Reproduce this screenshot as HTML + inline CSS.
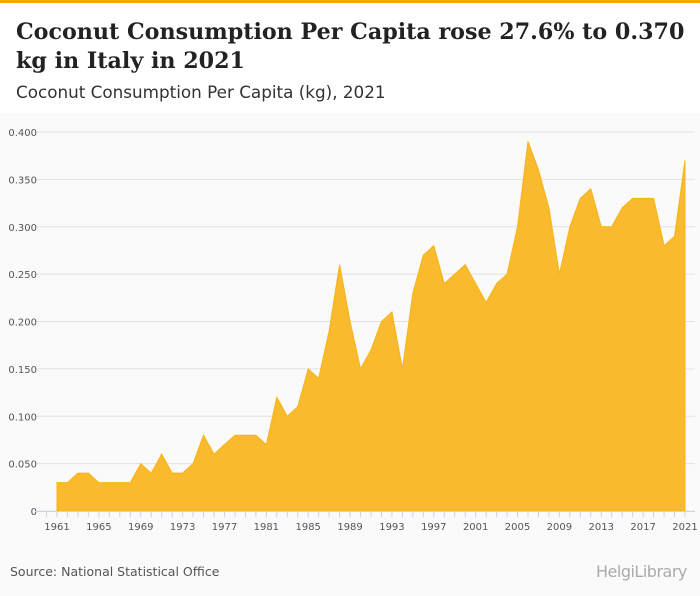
<!DOCTYPE html>
<html><head><meta charset="utf-8"><style>
body{margin:0;width:700px;height:596px;overflow:hidden;background:#fafafa;font-family:"DejaVu Sans",sans-serif;position:relative}
#top{position:absolute;left:0;top:0;width:700px;height:3px;background:#f4a700}
#head{position:absolute;left:0;top:3px;width:700px;height:110px;background:#fff}
h1{position:absolute;left:16px;top:15px;margin:0;font-family:"DejaVu Serif",serif;font-size:22.2px;line-height:29px;font-weight:bold;color:#222;white-space:nowrap}
#sub{position:absolute;left:16px;top:79px;font-size:16.8px;color:#333}
#src{position:absolute;left:10px;top:564px;font-size:12.5px;color:#555}
#logo{position:absolute;left:596px;top:562px;font-size:16px;color:#aaa;font-family:"DejaVu Sans",sans-serif;letter-spacing:-0.5px}
</style></head><body>
<div id="top"></div>
<div id="head">
<h1>Coconut Consumption Per Capita rose 27.6% to 0.370<br>kg in Italy in 2021</h1>
<div id="sub">Coconut Consumption Per Capita (kg), 2021</div>
</div>
<svg id="chart" width="700" height="596" style="position:absolute;left:0;top:0"></svg>
<div id="src">Source: National Statistical Office</div>
<div id="logo">HelgiLibrary</div>
<script>
const years=[];for(let y=1961;y<=2021;y++)years.push(y);
const values=[0.03,0.03,0.04,0.04,0.03,0.03,0.03,0.03,0.05,0.04,0.06,0.04,0.04,0.05,0.08,0.06,0.07,0.08,0.08,0.08,0.07,0.12,0.10,0.11,0.15,0.14,0.19,0.26,0.20,0.15,0.17,0.20,0.21,0.15,0.23,0.27,0.28,0.24,0.25,0.26,0.24,0.22,0.24,0.25,0.30,0.39,0.36,0.32,0.25,0.30,0.33,0.34,0.30,0.30,0.32,0.33,0.33,0.33,0.28,0.29,0.37];
const yTicks=[0,0.05,0.1,0.15,0.2,0.25,0.3,0.35,0.4];
const yTickLabels=["0","0.050","0.100","0.150","0.200","0.250","0.300","0.350","0.400"];
const xTickYears=[1961,1965,1969,1973,1977,1981,1985,1989,1993,1997,2001,2005,2009,2013,2017,2021];
const NS="http://www.w3.org/2000/svg";
const svg=document.getElementById('chart');
const X=y=>57+(y-1961)*(685-57)/60;
const Y=v=>511-v*(511-132)/0.4;
function mk(t,a){const e=document.createElementNS(NS,t);for(const k in a)e.setAttribute(k,a[k]);svg.appendChild(e);return e;}
yTicks.forEach((v,i)=>{
 const g=mk('line',{x1:35,x2:695,y1:Y(v),y2:Y(v),stroke:'#e2e2e2','stroke-width':1});
 
 
 const t=mk('text',{x:37,y:Y(v)+4,'text-anchor':'end','font-size':10,fill:'#555','font-family':'DejaVu Sans, sans-serif'});
 t.textContent=yTickLabels[i];
 
 
});
let d='M'+X(years[0])+','+Y(0);
years.forEach((y,i)=>{d+=' L'+X(y)+','+Y(values[i]);});
d+=' L'+X(years[years.length-1])+','+Y(0)+' Z';
const area=mk('path',{d:d,fill:'#f9bb2d',stroke:'#f6b41a','stroke-width':1});


const ax=mk('line',{x1:35,x2:695,y1:511.5,y2:511.5,stroke:'#c8d4e8'});


for(let y=1960;y<=2021;y++){
 const tk=mk('line',{x1:X(y),x2:X(y),y1:511,y2:517,stroke:'#c8d4e8'});
 
 
}
xTickYears.forEach(y=>{
 const t=mk('text',{x:X(y),y:530,'text-anchor':'middle','font-size':10,fill:'#555','font-family':'DejaVu Sans, sans-serif'});
 t.textContent=y;
 
 
});
</script>
</body></html>
